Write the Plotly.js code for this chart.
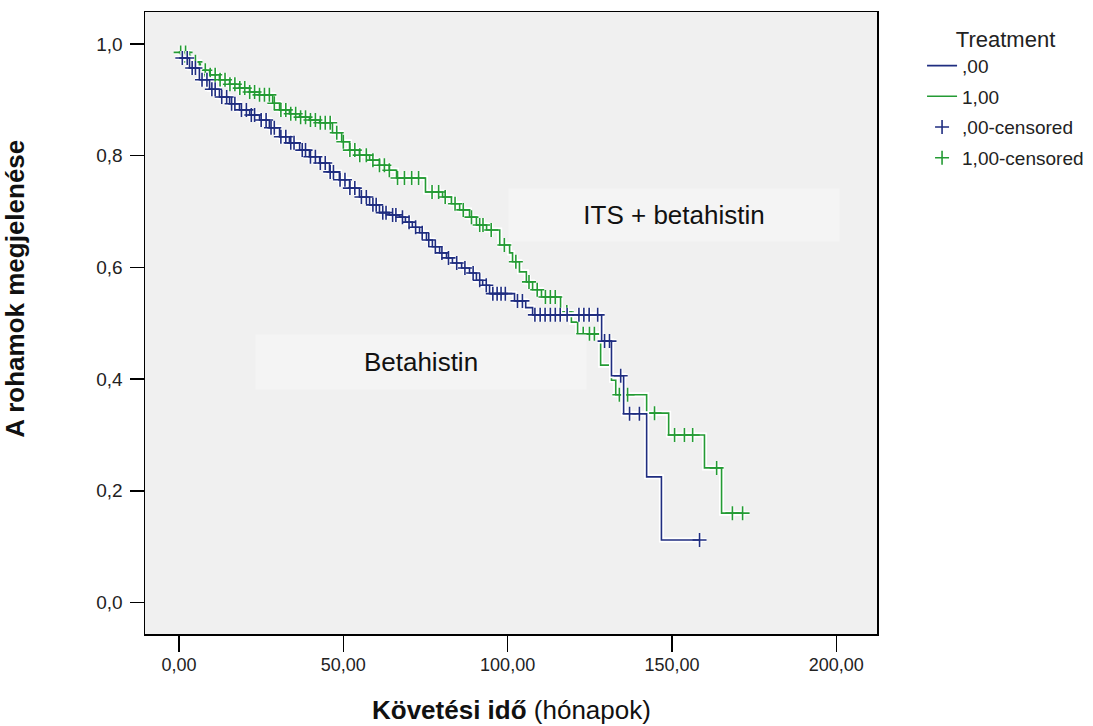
<!DOCTYPE html>
<html><head><meta charset="utf-8">
<script src="https://cdn.plot.ly/plotly-3.0.1.min.js"></script>
<style>html,body{margin:0;padding:0;background:#fff}#chart{width:1093px;height:726px}</style>
</head><body><div id="chart"></div>
<script>
// Group ",00" (Betahistin): event times and survival after each event
const blueEventTimes = [0, 3.2, 6.2, 9.3, 12.3, 15.4, 18.4, 21.5, 24.5, 27.5, 30.6, 33.6, 36.7, 39.7, 42.8, 45.8, 48.8, 51.9, 54.9, 58.0, 61.0, 64.0, 67.1, 68.9, 71.0, 73.2, 75.3, 77.1, 79.3, 81.4, 83.2, 86.0, 88.4, 90.5, 92.4, 94.5, 102.1, 105.5, 107.6, 128.6, 131.6, 135.3, 142.3, 146.8];
const blueSurvival = [0.975, 0.957, 0.936, 0.919, 0.905, 0.893, 0.882, 0.873, 0.864, 0.850, 0.834, 0.823, 0.810, 0.798, 0.787, 0.771, 0.757, 0.742, 0.726, 0.712, 0.698, 0.694, 0.690, 0.681, 0.672, 0.662, 0.649, 0.637, 0.626, 0.617, 0.608, 0.599, 0.590, 0.577, 0.568, 0.553, 0.540, 0.528, 0.515, 0.468, 0.406, 0.338, 0.225, 0.112];
const blueEndTime = 158.4;
const blueCensorTimes = [1, 2.5, 4, 5, 7, 8.5, 10, 11, 13, 14.5, 16, 17, 19, 20.5, 22, 23, 25, 26.5, 28, 29, 31, 32.5, 34, 35, 37.5, 38.5, 40, 41.5, 43, 44.5, 46, 47, 49, 50.5, 52, 53.5, 55.5, 57, 59, 60, 62, 63, 65, 66, 68, 70, 72, 74, 76, 78, 80, 82, 84.5, 87, 89.5, 91.5, 93.5, 95.5, 96.8, 98, 99.3, 103, 104.5, 108.3, 109.9, 111.4, 113, 114.5, 116, 118.1, 121.7, 123.2, 124.8, 127.4, 129.5, 131, 134.4, 137.1, 140.1, 158.4];

// Group "1,00" (ITS + betahistin)
const greenEventTimes = [0, 3.2, 6.2, 9.3, 12.3, 15.4, 18.4, 21.5, 24.5, 28.5, 30.6, 33.6, 36.7, 39.7, 42.8, 46.7, 49.5, 51.9, 54.9, 58.0, 61.0, 64.0, 66.2, 75.0, 80.2, 82.9, 85.4, 88.4, 90.5, 93.6, 97.6, 100.6, 101.5, 103.6, 105.7, 107.6, 110.3, 116.1, 119.4, 121.3, 128.3, 131.6, 132.9, 142.3, 149.0, 159.9, 165.1];
const greenSurvival = [0.985, 0.968, 0.953, 0.945, 0.936, 0.928, 0.921, 0.914, 0.909, 0.894, 0.882, 0.875, 0.869, 0.864, 0.859, 0.841, 0.825, 0.810, 0.801, 0.792, 0.783, 0.774, 0.760, 0.735, 0.726, 0.714, 0.703, 0.690, 0.676, 0.667, 0.640, 0.626, 0.610, 0.592, 0.574, 0.560, 0.547, 0.520, 0.502, 0.481, 0.425, 0.398, 0.372, 0.339, 0.300, 0.241, 0.160];
const greenEndTime = 171.5;
const greenCensorTimes = [0.5, 2, 3.5, 5, 6.5, 8, 9.5, 11, 12.5, 14, 15.5, 17, 18.5, 20, 21.5, 23, 24.5, 26, 27.5, 29, 31, 32.5, 34, 35.5, 37, 38.5, 40, 41.5, 43, 44.5, 46, 48, 50, 52, 53.5, 55, 57, 59, 61, 62.5, 64, 66.5, 68.6, 70.8, 72.9, 77, 79, 81, 84, 86.5, 89, 91.5, 92.5, 95, 99, 102.5, 106.5, 109, 111.5, 113, 114.5, 118, 123, 124.9, 126.4, 134, 136.5, 144.7, 150.8, 153.8, 156.3, 163.6, 168.4, 171.5];

const groupNames = [",00", "1,00"];
const censorNames = [",00-censored", "1,00-censored"];
const xTickValues = [0, 50, 100, 150, 200];
const yTickValues = [0, 0.2, 0.4, 0.6, 0.8, 1.0];

const BLUE = "#1f2d80", GREEN = "#249b34";
const FONT = "Arial, 'Liberation Sans', sans-serif";

function stepAt(times, surv, t) {
  let s = surv[0];
  for (let i = 0; i < times.length; i++) { if (times[i] <= t) s = surv[i]; else break; }
  return s;
}
function lineXY(times, surv, end) {
  return { x: times.concat([end]), y: surv.concat([surv[surv.length - 1]]) };
}
const bl = lineXY(blueEventTimes, blueSurvival, blueEndTime);
const gl = lineXY(greenEventTimes, greenSurvival, greenEndTime);
const bcY = blueCensorTimes.map(t => stepAt(blueEventTimes, blueSurvival, t));
const gcY = greenCensorTimes.map(t => stepAt(greenEventTimes, greenSurvival, t));

const halo = (xy, w) => ({ x: xy.x, y: xy.y, type: "scatter", mode: "lines", line: { shape: "hv", color: "#ffffff", width: w }, showlegend: false, hoverinfo: "skip" });
const haloM = (x, y) => ({ x: x, y: y, type: "scatter", mode: "markers", marker: { symbol: "cross-thin", size: 10, line: { color: "#ffffff", width: 4 } }, showlegend: false, hoverinfo: "skip" });

const traces = [
  halo(gl, 5), haloM(greenCensorTimes, gcY),
  { x: gl.x, y: gl.y, type: "scatter", mode: "lines", name: groupNames[1], legendrank: 2, legendgroup: "g2", line: { shape: "hv", color: GREEN, width: 1.6 } },
  { x: greenCensorTimes, y: gcY, type: "scatter", mode: "markers", name: censorNames[1], legendrank: 4, legendgroup: "g4", marker: { symbol: "cross-thin", size: 10, color: GREEN, line: { color: GREEN, width: 1.6 } } },
  halo(bl, 5), haloM(blueCensorTimes, bcY),
  { x: bl.x, y: bl.y, type: "scatter", mode: "lines", name: groupNames[0], legendrank: 1, legendgroup: "g1", line: { shape: "hv", color: BLUE, width: 1.6 } },
  { x: blueCensorTimes, y: bcY, type: "scatter", mode: "markers", name: censorNames[0], legendrank: 3, legendgroup: "g3", marker: { symbol: "cross-thin", size: 10, color: BLUE, line: { color: BLUE, width: 1.6 } } }
];

const layout = {
  width: 1093, height: 726,
  margin: { l: 145, r: 216, t: 12, b: 92 },
  paper_bgcolor: "#ffffff", plot_bgcolor: "#f0f0f0",
  separators: ", ",
  font: { family: FONT, size: 18, color: "#222" },
  xaxis: {
    range: [-10.35, 212.4], tickvals: xTickValues, tickformat: ".2f",
    showgrid: false, zeroline: false, showline: true, mirror: true, linecolor: "#000", linewidth: 1.5,
    ticks: "outside", ticklen: 16, tickwidth: 1.5, tickcolor: "#000", ticklabelstandoff: -2,
    tickfont: { family: FONT, size: 18, color: "#222" }
  },
  yaxis: {
    range: [-0.0564, 1.0573], tickvals: yTickValues, tickformat: ".1f",
    showgrid: false, zeroline: false, showline: true, mirror: true, linecolor: "#000", linewidth: 1.5,
    ticks: "outside", ticklen: 14, tickwidth: 1.5, tickcolor: "#000", ticklabelstandoff: 3,
    tickfont: { family: FONT, size: 19, color: "#222" }
  },
  legend: {
    xref: "container", yref: "container",
    x: 0.8436, xanchor: "left", y: 0.975, yanchor: "top",
    bgcolor: "rgba(0,0,0,0)", borderwidth: 0,
    font: { family: FONT, size: 19, color: "#222" },
    title: { text: "Treatment", side: "top center", font: { family: FONT, size: 22, color: "#222" } },
    tracegroupgap: 3, traceorder: "grouped"
  },
  annotations: [
    { xref: "paper", yref: "paper", x: 0.7227, y: 0.6736, text: "ITS + betahistin", showarrow: false,
      font: { family: FONT, size: 26, color: "#111" }, bgcolor: "#f4f4f4", width: 328, height: 50, xanchor: "center", yanchor: "middle" },
    { xref: "paper", yref: "paper", x: 0.3777, y: 0.437, text: "Betahistin", showarrow: false,
      font: { family: FONT, size: 26, color: "#111" }, bgcolor: "#f4f4f4", width: 328, height: 52, xanchor: "center", yanchor: "middle" },
    { xref: "paper", yref: "paper", x: -0.1775, y: 0.555, text: "<b>A rohamok megjelenése</b>", textangle: -90, showarrow: false,
      font: { family: FONT, size: 26, color: "#111" }, xanchor: "center", yanchor: "middle" },
    { xref: "paper", yref: "paper", x: 0.5, y: -0.1222, text: "<b>Követési idő</b> (hónapok)", showarrow: false,
      font: { family: FONT, size: 26, color: "#111" }, xanchor: "center", yanchor: "middle" }
  ]
};

Plotly.newPlot("chart", traces, layout, { displayModeBar: false, staticPlot: true });
</script>
</body></html>
